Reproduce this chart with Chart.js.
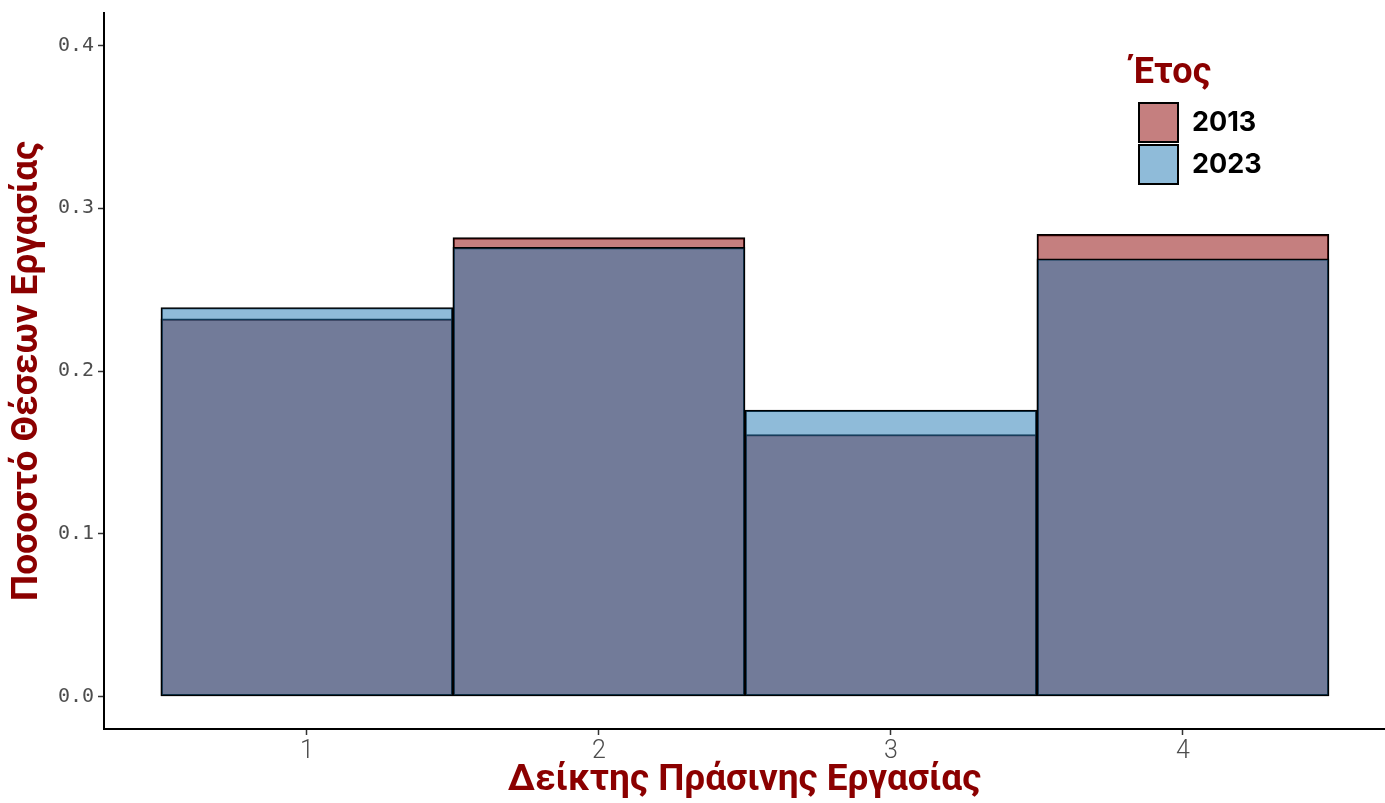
<!DOCTYPE html>
<html>
<head>
<meta charset="utf-8">
<script src="https://cdn.jsdelivr.net/npm/chart.js@4.4.1/dist/chart.umd.min.js"></script>
<style>
  body { margin: 0; background: #fff; }
  canvas { display: block; }
</style>
</head>
<body>
<canvas id="histChart" width="1385" height="803"></canvas>
<script>
// Chart data
const categories = [1, 2, 3, 4];
const years = ['2013', '2023'];
const share2013 = [0.232, 0.282, 0.161, 0.284];
const share2023 = [0.239, 0.276, 0.176, 0.269];
const xTicks = [1, 2, 3, 4];
const yTicks = [0.0, 0.1, 0.2, 0.3, 0.4];

// Define colors
var darkRed = '#8B0000';
var fill2013 = 'rgba(139,0,0,0.5)';
var fill2023 = 'rgba(31,119,180,0.5)';
var tickGray = '#4d4d4d';

function toPoints(values) {
    return categories.map((c, i) => ({ x: c, y: values[i] }));
}

// keep the plot box fixed, labels must not push it
function noEdgePadding(scale) {
    scale.paddingTop = 0;
    scale.paddingBottom = 0;
    scale.paddingLeft = 0;
    scale.paddingRight = 0;
}

// legend drawn inside the plot, top right
const insideLegend = {
    id: 'insideLegend',
    afterDraw(chart) {
        const ctx = chart.ctx;
        ctx.save();
        ctx.fillStyle = darkRed;
        ctx.font = 'bold 36px Roboto';
        ctx.textBaseline = 'middle';
        ctx.textAlign = 'left';
        ctx.fillText('Έτος', 1132, 74);
        chart.data.datasets.forEach((ds, i) => {
            const y = 103 + i * 42;
            ctx.fillStyle = ds.backgroundColor;
            ctx.fillRect(1139, y, 39, 39);
            ctx.strokeStyle = '#000';
            ctx.lineWidth = 2;
            ctx.strokeRect(1139, y, 39, 39);
            ctx.fillStyle = '#000';
            ctx.font = 'bold 27px Inter';
            ctx.fillText(ds.label, 1192, y + 20);
        });
        ctx.restore();
    }
};

const config = {
    type: 'bar',
    data: {
        datasets: [
            {
                label: years[0],
                data: toPoints(share2013),
                backgroundColor: fill2013,
                borderColor: '#000',
                borderWidth: 1.5,
                borderSkipped: false,
                order: 1
            },
            {
                label: years[1],
                data: toPoints(share2023),
                backgroundColor: fill2023,
                borderColor: '#000',
                borderWidth: 1.5,
                borderSkipped: false,
                order: 0
            }
        ]
    },
    options: {
        responsive: false,
        animation: false,
        layout: { padding: { top: 13, left: 0, right: 0, bottom: 0 } },
        datasets: { bar: { grouped: false, barPercentage: 1, categoryPercentage: 1 } },
        plugins: {
            legend: { display: false },
            tooltip: { enabled: false },
            title: { display: false }
        },
        scales: {
            x: {
                type: 'linear',
                min: 0.305,
                max: 4.692,
                offset: false,
                grid: { display: true, offset: false, drawOnChartArea: false, drawTicks: true, tickLength: 6, tickColor: '#333', tickWidth: 1.5 },
                border: { display: true, color: '#000', width: 2 },
                afterBuildTicks: (scale) => { scale.ticks = xTicks.map(v => ({ value: v })); },
                afterFit: (scale) => { scale.height = 74; noEdgePadding(scale); },
                ticks: {
                    color: tickGray,
                    font: { family: 'Roboto', size: 25, weight: 300 },
                    padding: 2,
                    callback: (v) => String(v)
                },
                title: {
                    display: true,
                    text: 'Δείκτης Πράσινης Εργασίας',
                    color: darkRed,
                    font: { family: 'Roboto', size: 37, weight: 'bold' },
                    padding: { top: 0, bottom: 0 }
                }
            },
            y: {
                min: -0.02,
                max: 0.42,
                grid: { display: true, drawOnChartArea: false, drawTicks: true, tickLength: 6, tickColor: '#333', tickWidth: 1.5 },
                border: { display: true, color: '#000', width: 2 },
                afterBuildTicks: (scale) => { scale.ticks = yTicks.map(v => ({ value: v })); },
                afterFit: (scale) => { scale.width = 104; noEdgePadding(scale); },
                ticks: {
                    color: tickGray,
                    font: { family: 'DejaVu Sans Mono', size: 20 },
                    padding: 4,
                    callback: (v) => Number(v).toFixed(1)
                },
                title: {
                    display: true,
                    text: 'Ποσοστό Θέσεων Εργασίας',
                    color: darkRed,
                    font: { family: 'Roboto', size: 37, weight: 'bold' },
                    padding: { top: 6, bottom: 0 }
                }
            }
        }
    },
    plugins: [insideLegend]
};

var ctx = document.getElementById('histChart');
var myChart = new Chart(ctx, config);
</script>
</body>
</html>
